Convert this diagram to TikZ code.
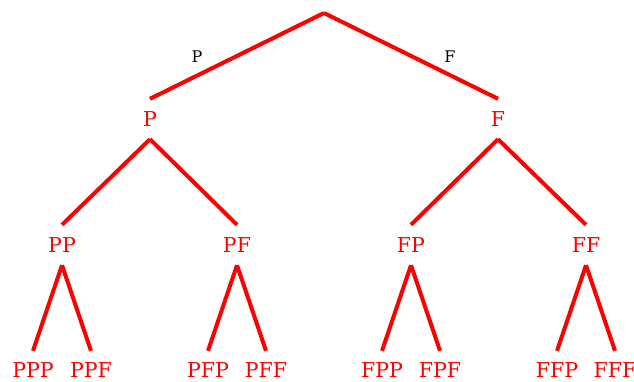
\documentclass[tikz,border=0pt]{standalone}
\usepackage{fontspec}
\setmainfont{DejaVu Serif}
\begin{document}
\begin{tikzpicture}[x=1pt,y=-1pt,
  st/.style={text=red,font=\fontsize{20.5}{22}\selectfont,inner sep=0pt,minimum height=40pt},
  leaf/.style={st,minimum height=38pt},
  edge/.style={draw=red,line width=4pt},
  lab/.style={text=black,font=\fontsize{16}{18}\selectfont}]
\useasboundingbox (0,0) rectangle (634,381);
\coordinate (root) at (324,13);
\node[st] (P) at (150,119) {P};
\node[st] (F) at (498,119) {F};
\node[st] (PP) at (62,245) {PP};
\node[st] (PF) at (237,245) {PF};
\node[st] (FP) at (411,245) {FP};
\node[st] (FF) at (586,245) {FF};
\node[leaf] (PPP) at (33,370) {PPP};
\node[leaf] (PPF) at (91,370) {PPF};
\node[leaf] (PFP) at (208,370) {PFP};
\node[leaf] (PFF) at (266,370) {PFF};
\node[leaf] (FPP) at (382,370) {FPP};
\node[leaf] (FPF) at (440,370) {FPF};
\node[leaf] (FFP) at (557,370) {FFP};
\node[leaf] (FFF) at (615,370) {FFF};
\draw[edge] (root) -- (P.north) node[lab,pos=0.5,xshift=-40pt,yshift=-1pt] {P};
\draw[edge] (root) -- (F.north) node[lab,pos=0.5,xshift=39pt,yshift=-1pt] {F};
\foreach \a/\b in {P/PP,P/PF,F/FP,F/FF,PP/PPP,PP/PPF,PF/PFP,PF/PFF,FP/FPP,FP/FPF,FF/FFP,FF/FFF}
  \draw[edge] (\a.south) -- (\b.north);
\end{tikzpicture}
\end{document}
